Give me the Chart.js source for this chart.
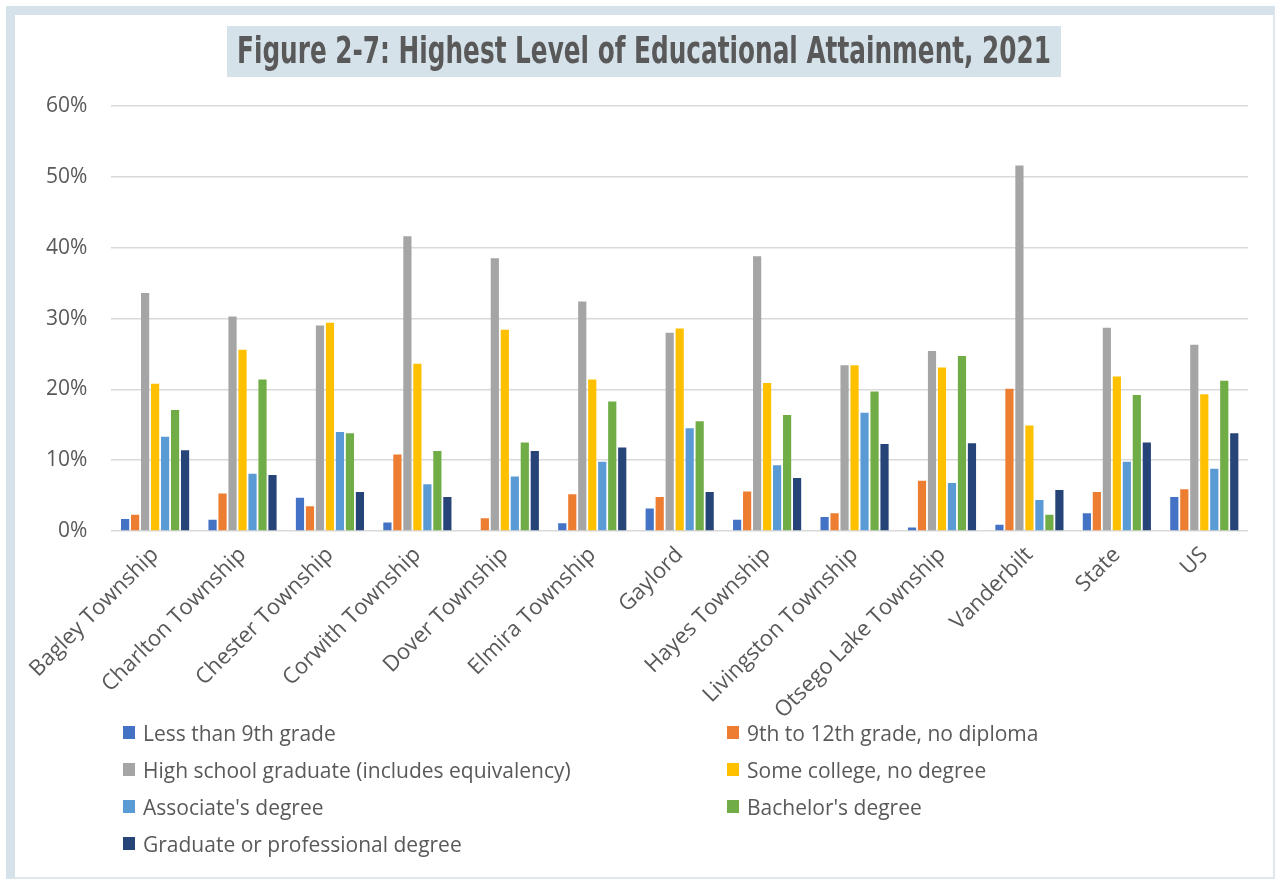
<!DOCTYPE html>
<html>
<head>
<meta charset="utf-8">
<script src="https://cdn.jsdelivr.net/npm/chart.js@4.4.1/dist/chart.umd.min.js"></script>
<style>
  body { margin: 0; background: #fff; }
  #frame {
    position: absolute; left: 6px; top: 6px; width: 1269px; height: 873px;
    box-sizing: border-box;
    border-left: 9px solid #D6E2EA; border-top: 9px solid #D6E2EA;
    border-right: 2px solid #DCE7EE; border-bottom: 2px solid #DCE7EE;
  }
  #wrap { position: absolute; left: 0; top: 0; width: 1275px; height: 740px; }
  #legend {
    position: absolute; left: 123px; top: 714px;
    display: grid; grid-template-columns: 604px 400px; grid-auto-rows: 37px;
    font-family: "Open Sans", sans-serif; font-size: 21px; color: #595959;
  }
  #legend div { display: flex; align-items: center; white-space: nowrap; }
  #legend span { display: inline-block; width: 12px; height: 13px; margin-right: 8px; }
</style>
</head>
<body>
<div id="frame"></div>
<div id="wrap"><canvas id="myChart"></canvas></div>
<div id="legend"></div>
<script>
var titleText = 'Figure 2-7: Highest Level of Educational Attainment, 2021';

var categories = ['Bagley Township', 'Charlton Township', 'Chester Township', 'Corwith Township',
  'Dover Township', 'Elmira Township', 'Gaylord', 'Hayes Township', 'Livingston Township',
  'Otsego Lake Township', 'Vanderbilt', 'State', 'US'];

var seriesNames = ['Less than 9th grade', '9th to 12th grade, no diploma',
  'High school graduate (includes equivalency)', 'Some college, no degree',
  "Associate's degree", "Bachelor's degree", 'Graduate or professional degree'];

var lessThan9th = [1.7, 1.6, 4.7, 1.2, 0, 1.1, 3.2, 1.6, 2.0, 0.5, 0.9, 2.5, 4.8];
var grade9to12  = [2.3, 5.3, 3.5, 10.8, 1.8, 5.2, 4.8, 5.6, 2.5, 7.1, 20.1, 5.5, 5.9];
var highSchool  = [33.6, 30.3, 29.0, 41.6, 38.5, 32.4, 28.0, 38.8, 23.4, 25.4, 51.6, 28.7, 26.3];
var someCollege = [20.8, 25.6, 29.4, 23.6, 28.4, 21.4, 28.6, 20.9, 23.4, 23.1, 14.9, 21.8, 19.3];
var associate   = [13.3, 8.1, 14.0, 6.6, 7.7, 9.8, 14.5, 9.3, 16.7, 6.8, 4.4, 9.8, 8.8];
var bachelor    = [17.1, 21.4, 13.8, 11.3, 12.5, 18.3, 15.5, 16.4, 19.7, 24.7, 2.3, 19.2, 21.2];
var graduate    = [11.4, 7.9, 5.5, 4.8, 11.3, 11.8, 5.5, 7.5, 12.3, 12.4, 5.8, 12.5, 13.8];

var yTicks = [0, 10, 20, 30, 40, 50, 60];

var seriesValues = [lessThan9th, grade9to12, highSchool, someCollege, associate, bachelor, graduate];
var colors = ['#4472C4', '#ED7D31', '#A5A5A5', '#FFC000', '#5B9BD5', '#70AD47', '#264478'];

var datasets = seriesNames.map(function(name, i) {
  return {
    label: name,
    data: seriesValues[i],
    backgroundColor: colors[i],
    borderWidth: 0,
    categoryPercentage: 0.8,
    barPercentage: 0.82
  };
});

// title with its shaded box, squeezed to look like a condensed face
var titleBox = {
  id: 'titleBox',
  afterDraw: function(chart) {
    var c = chart.ctx;
    c.save();
    c.fillStyle = '#D6E2EA';
    c.fillRect(227, 26, 834, 51);
    c.font = 'bold 38px "Liberation Sans Narrow", "DejaVu Sans Condensed", "Liberation Sans", sans-serif';
    var w = c.measureText(titleText).width;
    c.translate(644, 53);
    c.scale(814 / w, 1);
    c.fillStyle = '#595959';
    c.textAlign = 'center';
    c.textBaseline = 'middle';
    c.fillText(titleText, 0, 0);
    c.restore();
  }
};

var ctx = document.getElementById('myChart').getContext('2d');
var myChart = new Chart(ctx, {
  type: 'bar',
  data: { labels: categories, datasets: datasets },
  options: {
    responsive: true,
    maintainAspectRatio: false,
    animation: false,
    layout: { padding: { left: 22, right: 27, top: 106, bottom: 13 } },
    plugins: {
      legend: { display: false },
      title: { display: false },
      tooltip: { enabled: false }
    },
    scales: {
      x: {
        grid: { display: false },
        border: { display: false },
        // let the slanted first label hang past the y axis instead of pushing the plot right
        afterFit: function(scale) { scale.paddingLeft = 0; },
        ticks: {
          minRotation: 45, maxRotation: 45,
          color: '#595959',
          font: { family: 'Open Sans', size: 22 }
        }
      },
      y: {
        min: 0, max: 60,
        afterBuildTicks: function(axis) {
          axis.ticks = yTicks.map(function(v) { return { value: v }; });
        },
        grid: { color: '#D9D9D9', lineWidth: 1.5, drawTicks: false },
        border: { display: false },
        ticks: {
          padding: 24,
          color: '#595959',
          font: { family: 'Open Sans', size: 21 },
          callback: function(v) { return v + '%'; }
        }
      }
    }
  },
  plugins: [titleBox]
});

var legend = document.getElementById('legend');
seriesNames.forEach(function(name, i) {
  var item = document.createElement('div');
  var box = document.createElement('span');
  box.style.background = colors[i];
  item.appendChild(box);
  item.appendChild(document.createTextNode(name));
  legend.appendChild(item);
});
</script>
</body>
</html>
